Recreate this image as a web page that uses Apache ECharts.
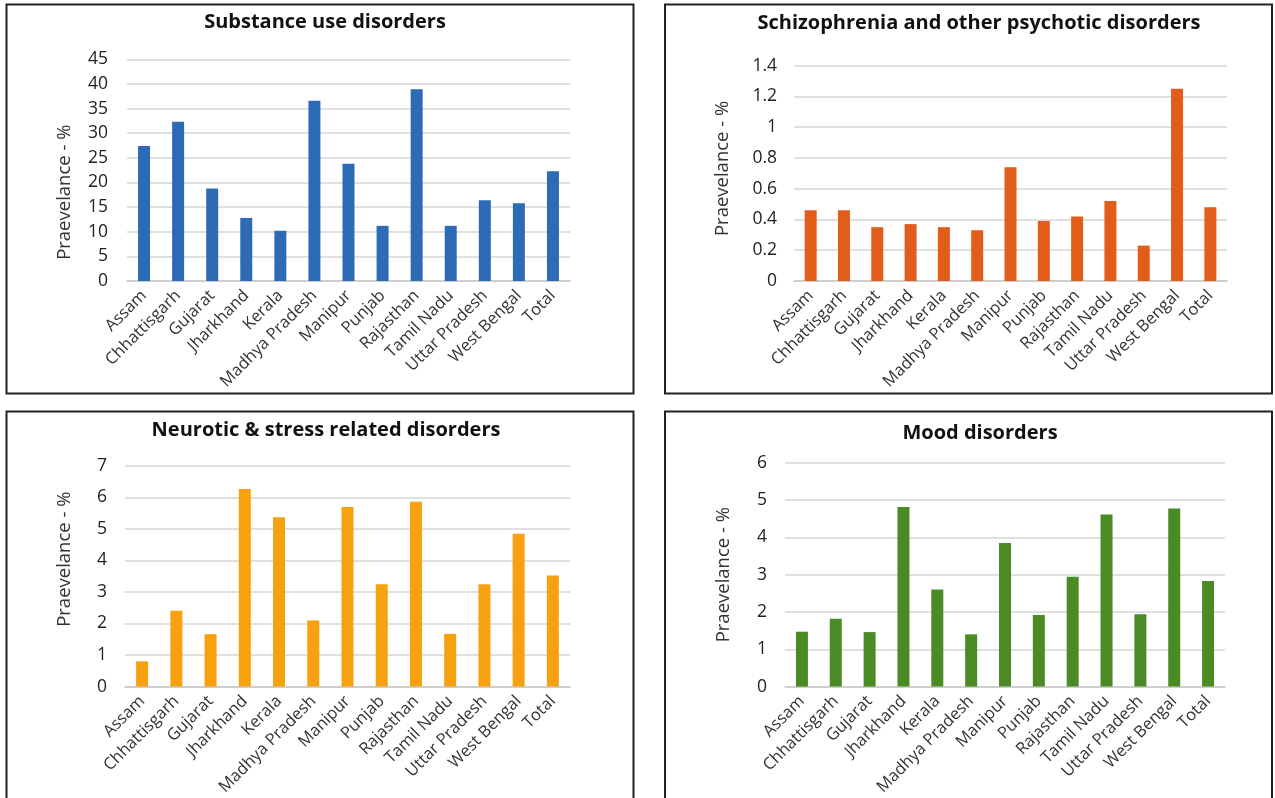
<!DOCTYPE html>
<html>
<head>
<meta charset="utf-8">
<script src="https://cdn.jsdelivr.net/npm/echarts@6/dist/echarts.min.js"></script>
<style>
html,body{margin:0;padding:0;background:#fff;}
#chart{width:1275px;height:798px;}
</style>
</head>
<body>
<div id="chart"></div>
<script>
const categories = ['Assam','Chhattisgarh','Gujarat','Jharkhand','Kerala','Madhya Pradesh','Manipur','Punjab','Rajasthan','Tamil Nadu','Uttar Pradesh','West Bengal','Total'];
const substanceUse = [27.4, 32.3, 18.8, 12.8, 10.2, 36.6, 23.8, 11.2, 38.9, 11.2, 16.4, 15.8, 22.3];
const schizophrenia = [0.46, 0.46, 0.35, 0.37, 0.35, 0.33, 0.74, 0.39, 0.42, 0.52, 0.23, 1.25, 0.48];
const neurotic = [0.80, 2.40, 1.66, 6.26, 5.37, 2.09, 5.69, 3.24, 5.86, 1.67, 3.24, 4.84, 3.52];
const mood = [1.47, 1.82, 1.46, 4.81, 2.60, 1.40, 3.85, 1.92, 2.94, 4.61, 1.94, 4.77, 2.83];
const titles = ['Substance use disorders','Schizophrenia and other psychotic disorders','Neurotic & stress related disorders','Mood disorders'];
const yMax = [45, 1.4, 7, 6];
const yInterval = [5, 0.2, 1, 1];
const yName = 'Praevelance - %';

const FONT = '"Open Sans", "Noto Sans", sans-serif';
const seriesData = [substanceUse, schizophrenia, neurotic, mood];
const colors = ['#2e6bb6', '#e35d1a', '#f7a10f', '#4a8b25'];
const grids = [
  {left: 127, top: 59.3, width: 443, height: 221.7},
  {left: 794, top: 65.7, width: 433, height: 215.3},
  {left: 125, top: 465.7, width: 445, height: 223.3},
  {left: 785, top: 462.7, width: 440, height: 226.6}
];
const titlePos = [[320, 7], [974, 8], [321, 415], [975, 418]];
const nameGaps = [53, 62, 51, 52];
const namePads = [[0, 44, 0, 0], [0, 0, 0, 10], [0, 0, 0, 34], [0, 0, 0, 0]];
const labelMargins = [19, 17, 18, 18];

const chart = echarts.init(document.getElementById('chart'), null, {renderer: 'canvas'});

const option = {
  backgroundColor: '#ffffff',
  animation: false,
  title: titles.map((t, i) => ({
    text: t,
    left: titlePos[i][0],
    top: titlePos[i][1],
    textAlign: 'center',
    textStyle: {fontFamily: FONT, fontWeight: 'bold', fontSize: 20, color: '#111'}
  })),
  graphic: [
    {type: 'rect', shape: {x: 6.5, y: 4.5, width: 627, height: 389}, style: {fill: 'none', stroke: '#222', lineWidth: 2}},
    {type: 'rect', shape: {x: 665, y: 4.5, width: 607, height: 389}, style: {fill: 'none', stroke: '#222', lineWidth: 2}},
    {type: 'rect', shape: {x: 6.5, y: 411.5, width: 627, height: 400}, style: {fill: 'none', stroke: '#222', lineWidth: 2}},
    {type: 'rect', shape: {x: 665, y: 411.5, width: 607, height: 400}, style: {fill: 'none', stroke: '#222', lineWidth: 2}}
  ],
  grid: grids,
  xAxis: grids.map((g, i) => ({
    type: 'category',
    gridIndex: i,
    data: categories,
    axisTick: {show: false},
    axisLine: {show: true, lineStyle: {color: '#c8c8c8', width: 1.5}},
    axisLabel: {rotate: 45, interval: 0, margin: 12, fontFamily: FONT, fontSize: 16.5, color: '#333'}
  })),
  yAxis: grids.map((g, i) => ({
    type: 'value',
    gridIndex: i,
    min: 0,
    max: yMax[i],
    interval: yInterval[i],
    name: yName,
    nameLocation: 'middle',
    nameGap: nameGaps[i],
    nameRotate: 90,
    nameTextStyle: {fontFamily: FONT, fontSize: 18.5, color: '#333', padding: namePads[i]},
    axisLine: {show: false},
    axisTick: {show: false},
    axisLabel: {margin: labelMargins[i], fontFamily: FONT, fontSize: 17.5, color: '#222'},
    splitLine: {show: true, lineStyle: {color: '#d6d6d6', width: 1.5}}
  })),
  series: seriesData.map((d, i) => ({
    type: 'bar',
    xAxisIndex: i,
    yAxisIndex: i,
    data: d,
    barWidth: 12,
    itemStyle: {color: colors[i]}
  }))
};
chart.setOption(option);
</script>
</body>
</html>
